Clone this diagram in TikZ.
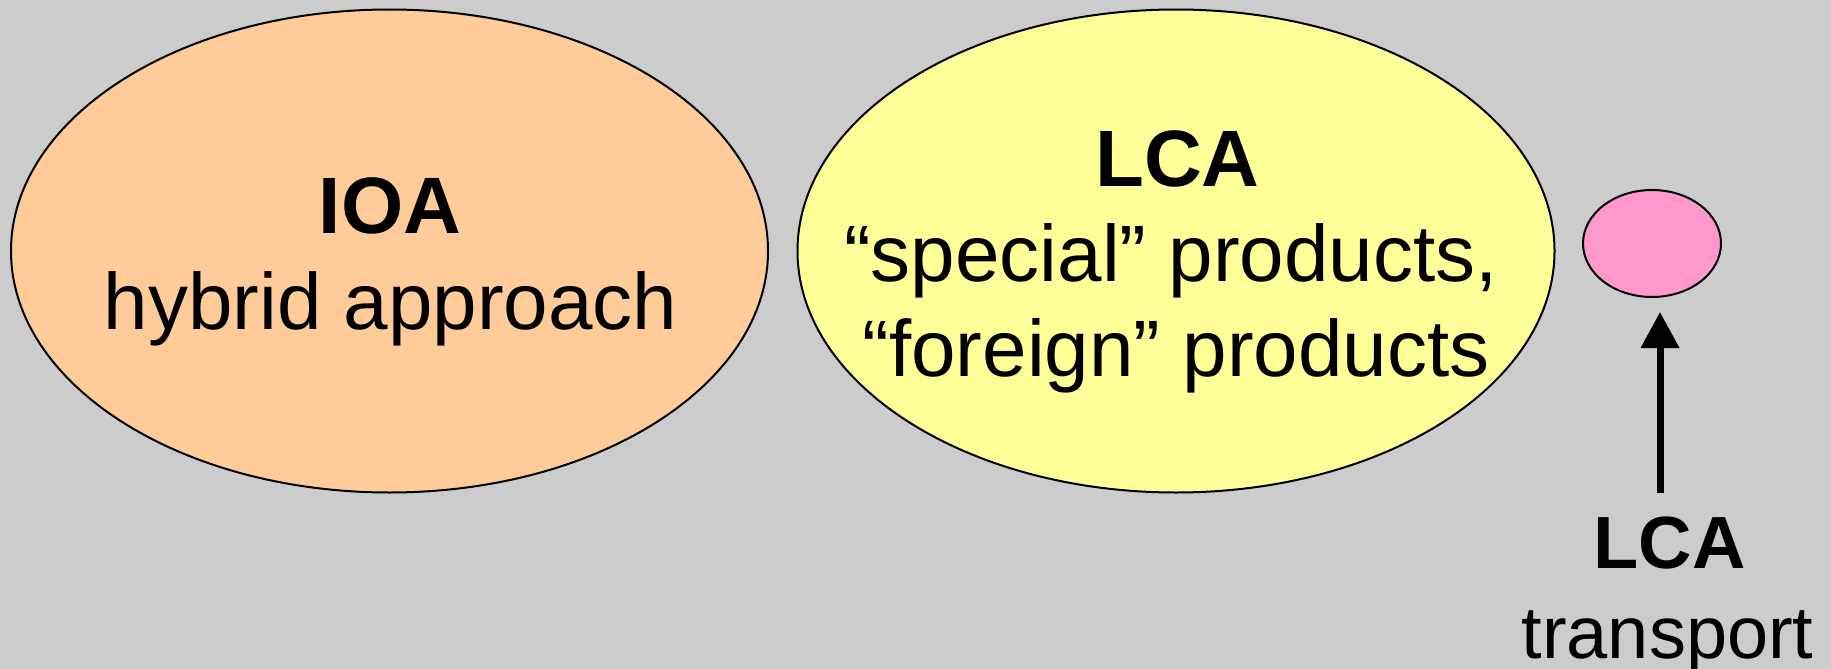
\documentclass[tikz,border=0pt]{standalone}
\usepackage{fontspec}
\setmainfont{Liberation Sans}
\usetikzlibrary{shapes.geometric,arrows.meta}
\definecolor{bggray}{HTML}{CCCCCC}
\definecolor{peach}{HTML}{FFCC99}
\definecolor{lightyellow}{HTML}{FFFF99}
\definecolor{pinkish}{HTML}{FF99CC}
\tikzset{
  blob/.style={ellipse,draw=black,line width=2pt,inner sep=0pt},
  txt/.style={anchor=base,inner sep=0pt,font=\fontsize{80}{80}\selectfont},
  btxt/.style={txt,font=\fontsize{80}{80}\selectfont\bfseries},
  stxt/.style={anchor=base,inner sep=0pt,font=\fontsize{74}{74}\selectfont},
  sbtxt/.style={stxt,font=\fontsize{74}{74}\selectfont\bfseries}
}
\begin{document}
\begin{tikzpicture}[x=1pt,y=-1pt]
\fill[bggray] (0,0) rectangle (1831,669);
\useasboundingbox (0,0) rectangle (1831,669);
\node[blob,fill=peach,minimum width=757pt,minimum height=483pt] (ioa) at (389.5,251) {};
\node[blob,fill=lightyellow,minimum width=757pt,minimum height=483pt] (lca) at (1176,251) {};
\node[blob,fill=pinkish,minimum width=138pt,minimum height=107pt] (small) at (1652,243.5) {};
\node[btxt] (ioat) at (390,233.5) {IOA};
\node[txt] (ioas) at (390.5,329) {hybrid approach};
\node[btxt] (lcat) at (1177.5,186.5) {LCA};
\node[txt] (lcas1) at (1171,281) {“special” products,};
\node[txt] (lcas2) at (1176,376) {“foreign” products};
\node[sbtxt] (trt) at (1669.5,568) {LCA};
\node[stxt] (trs) at (1667.5,658) {transport};
\coordinate (arrbase) at (1660,493);
\coordinate (arrtip) at (1660,312);
\draw[line width=7pt,-{Triangle[width=37pt,length=36pt]}] (arrbase) -- (arrtip);
\end{tikzpicture}
\end{document}
